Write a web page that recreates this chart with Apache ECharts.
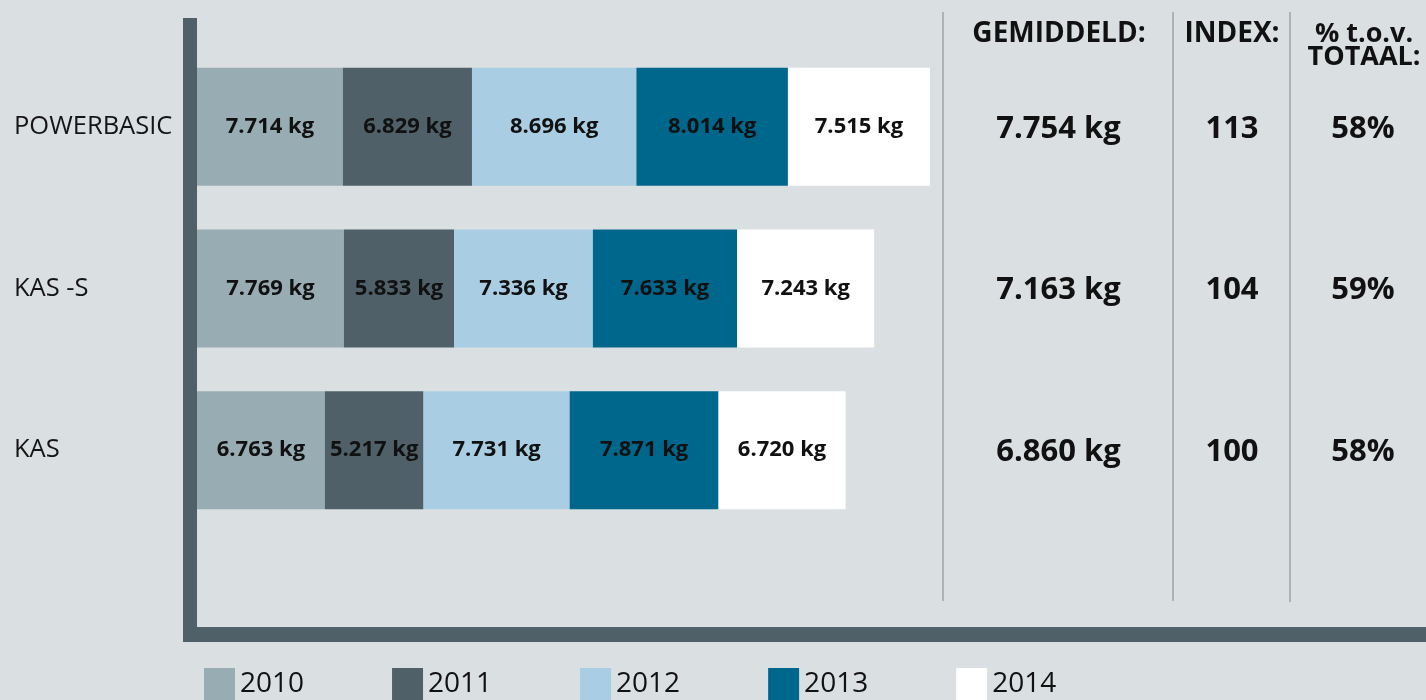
<!DOCTYPE html>
<html>
<head>
<meta charset="utf-8">
<script src="https://cdn.jsdelivr.net/npm/echarts@6/dist/echarts.min.js"></script>
<style>
  html, body { margin: 0; padding: 0; background: #dadfe2; }
  #chart { width: 1426px; height: 700px; }
</style>
</head>
<body>
<div id="chart"></div>
<script>
// products (top to bottom) and yearly values in kg
const products = ['POWERBASIC', 'KAS -S', 'KAS']
const years = ['2010', '2011', '2012', '2013', '2014']
const v2010 = [7714, 7769, 6763]
const v2011 = [6829, 5833, 5217]
const v2012 = [8696, 7336, 7731]
const v2013 = [8014, 7633, 7871]
const v2014 = [7515, 7243, 6720]
const averages = [7754, 7163, 6860]
const indexes = [113, 104, 100]
const shares = [58, 59, 58]

const yearValues = [v2010, v2011, v2012, v2013, v2014]
const colors = ['#98acb3', '#4f6068', '#a9cee3', '#00678c', '#ffffff']
const font = '"Open Sans", "Noto Sans", sans-serif'

// 7714 -> "7.714" (dutch thousands separator)
const fmt = (n) => String(n).replace(/\B(?=(\d{3})+(?!\d))/g, '.')

const chart = echarts.init(document.getElementById('chart'))

const cell = { align: 'center', fontSize: 31, fontWeight: 'bold', color: '#111', fontFamily: font }

const option = {
  backgroundColor: '#dadfe2',
  animation: false,
  textStyle: { fontFamily: font },
  grid: { left: 197, right: 0, top: 46, bottom: 169 },
  legend: {
    left: 199,
    top: 663,
    icon: 'rect',
    itemWidth: 31,
    itemHeight: 32,
    itemGap: 88,
    textStyle: { fontSize: 28, color: '#111', fontFamily: font, padding: [10, 0, 0, 0] },
    data: years,
  },
  xAxis: {
    type: 'value',
    min: 0,
    max: 65000,
    show: false,
  },
  yAxis: [
    {
      type: 'category',
      data: products,
      inverse: true,
      axisLine: { show: false },
      axisTick: { show: false },
      axisLabel: {
        align: 'left',
        margin: 183,
        padding: [12, 0, 0, 0],
        fontSize: 25.5,
        color: '#151515',
        fontFamily: font,
      },
    },
    {
      // right hand table: gemiddeld / index / % t.o.v. totaal
      type: 'category',
      data: products,
      inverse: true,
      position: 'right',
      axisLine: { show: false },
      axisTick: { show: false },
      axisLabel: {
        inside: true,
        margin: 0,
        padding: [4, 0, 0, 0],
        formatter: (val, i) =>
          '{a|' + fmt(averages[i]) + ' kg}{b|' + indexes[i] + '}{s|}{c|' + shares[i] + '%}',
        rich: {
          a: Object.assign({ width: 231 }, cell),
          b: Object.assign({ width: 116 }, cell),
          s: { width: 10 },
          c: Object.assign({ width: 126 }, cell),
        },
      },
    },
  ],
  graphic: [
    // separators of the table
    { type: 'line', shape: { x1: 943, y1: 12, x2: 943, y2: 601 }, style: { stroke: '#9fa3a6', lineWidth: 1.5 } },
    { type: 'line', shape: { x1: 1173, y1: 12, x2: 1173, y2: 601 }, style: { stroke: '#9fa3a6', lineWidth: 1.5 } },
    { type: 'line', shape: { x1: 1290, y1: 12, x2: 1290, y2: 602 }, style: { stroke: '#9fa3a6', lineWidth: 1.5 } },
    // thick L shaped axis
    { type: 'rect', shape: { x: 183, y: 18, width: 14, height: 624 }, style: { fill: '#4f6068' } },
    { type: 'rect', shape: { x: 183, y: 627, width: 1243, height: 15 }, style: { fill: '#4f6068' } },
    // table headers
    { type: 'text', x: 1059, y: 34, style: { text: 'GEMIDDELD:', textAlign: 'center', textVerticalAlign: 'middle', font: 'bold 28px ' + font, fill: '#111' } },
    { type: 'text', x: 1232, y: 34, style: { text: 'INDEX:', textAlign: 'center', textVerticalAlign: 'middle', font: 'bold 28px ' + font, fill: '#111' } },
    { type: 'text', x: 1364, y: 46, style: { text: '% t.o.v.\nTOTAAL:', textAlign: 'center', textVerticalAlign: 'middle', lineHeight: 23, font: 'bold 27px ' + font, fill: '#111' } },
  ],
  series: years.map((y, i) => ({
    name: y,
    type: 'bar',
    stack: 'total',
    barWidth: 118,
    itemStyle: { color: colors[i] },
    label: {
      show: true,
      position: 'inside',
      formatter: (p) => fmt(p.value) + ' kg',
      fontSize: 22,
      fontWeight: 'bold',
      color: '#111',
      fontFamily: font,
    },
    data: yearValues[i],
  })),
}

chart.setOption(option)
</script>
</body>
</html>
